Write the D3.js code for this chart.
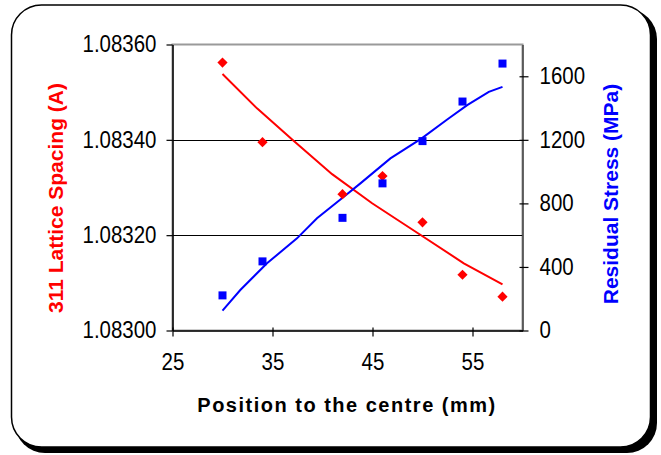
<!DOCTYPE html>
<html>
<head>
<meta charset="utf-8">
<script src="https://cdn.jsdelivr.net/npm/d3@7"></script>
<style>
  body { margin: 0; background: #fff; }
  svg { display: block; font-family: "Liberation Sans", Arial, sans-serif; }
</style>
</head>
<body>
<svg id="chart" width="661" height="455"></svg>
<script>
// Measured points: position (mm), 311 lattice spacing (A), residual stress (MPa)
var positions = [30, 34, 42, 46, 50, 54, 58];
var latticeSpacing = [1.083562, 1.083395, 1.083286, 1.083324, 1.083227, 1.083117, 1.083071];
var residualStress = [221, 435, 709, 926, 1192, 1441, 1680];

// Trend lines
var spacingTrendX = [30, 33.45, 37.05, 40.96, 44.96, 49.7, 54.13, 58];
var spacingTrendY = [1.083538, 1.083466, 1.083399, 1.083328, 1.083267, 1.083202, 1.083141, 1.083097];
var stressTrendX = [30, 31.78, 34.45, 37.45, 39.45, 41.79, 43.79, 46.79, 49.92, 52.47, 54.47, 56.63, 58];
var stressTrendY = [125, 255, 423, 580, 706, 825, 926, 1083, 1209, 1328, 1418, 1502, 1533];

// Axis ticks
var xTicks = [25, 35, 45, 55];
var leftTicks = [1.0830, 1.0832, 1.0834, 1.0836];
var rightTicks = [0, 400, 800, 1200, 1600];
var gridTicks = [1.0832, 1.0834];

var svg = d3.select("#chart");

var plot = { left: 172.5, right: 522.5, top: 44.5, bottom: 330.5 };

var x = d3.scaleLinear().domain([25, 60]).range([plot.left, plot.right]);
var yLeft = d3.scaleLinear().domain([1.0830, 1.0836]).range([plot.bottom, plot.top]);
var yRight = d3.scaleLinear().domain([0, 1800]).range([plot.bottom, plot.top]);

// Excel draws the labels a bit narrow: squeeze the glyphs horizontally
function squeeze(sel, k) {
  sel.each(function() {
    var w = this.getComputedTextLength();
    d3.select(this).attr("textLength", w * k).attr("lengthAdjust", "spacingAndGlyphs");
  });
}

// Frame with shadow
svg.append("rect")
  .attr("x", 15).attr("y", 9)
  .attr("width", 642).attr("height", 444)
  .attr("rx", 30).attr("ry", 30)
  .attr("fill", "#000");
svg.append("rect")
  .attr("x", 11.5).attr("y", 5)
  .attr("width", 639).attr("height", 442)
  .attr("rx", 30).attr("ry", 30)
  .attr("fill", "#fff")
  .attr("stroke", "#000")
  .attr("stroke-width", 1.5);

// Plot area border
svg.append("rect")
  .attr("x", plot.left).attr("y", plot.top)
  .attr("width", plot.right - plot.left)
  .attr("height", plot.bottom - plot.top)
  .attr("fill", "none")
  .attr("stroke", "#9a9a9a")
  .attr("stroke-width", 2);

// Gridlines
svg.append("g").selectAll("line")
  .data(gridTicks)
  .join("line")
  .attr("x1", plot.left).attr("x2", plot.right)
  .attr("y1", function(d) { return Math.round(yLeft(d)) + 0.5; })
  .attr("y2", function(d) { return Math.round(yLeft(d)) + 0.5; })
  .attr("stroke", "#000")
  .attr("stroke-width", 1);

// Axes
var leftAxis = svg.append("g")
  .attr("transform", "translate(" + plot.left + ",0)")
  .call(d3.axisLeft(yLeft).tickValues(leftTicks)
    .tickFormat(d3.format(".5f")).tickSize(6).tickSizeOuter(0).tickPadding(10));

var rightAxis = svg.append("g")
  .attr("transform", "translate(" + plot.right + ",0)")
  .call(d3.axisRight(yRight).tickValues(rightTicks)
    .tickFormat(d3.format("d")).tickSize(6).tickSizeOuter(0).tickPadding(11));
rightAxis.selectAll(".tick line").attr("x1", -3);

var bottomAxis = svg.append("g")
  .attr("transform", "translate(0," + plot.bottom + ")")
  .call(d3.axisBottom(x).tickValues(xTicks)
    .tickSize(6).tickSizeOuter(0).tickPadding(17));
bottomAxis.selectAll(".tick line").attr("y1", -3);

[leftAxis, rightAxis, bottomAxis].forEach(function(a) {
  a.attr("font-size", null).attr("font-family", null);
  a.select(".domain").attr("stroke", "#000").attr("stroke-width", 1.5);
  a.selectAll(".tick line").attr("stroke", "#000").attr("stroke-width", 1.2);
  a.selectAll("text")
    .attr("font-size", 23)
    .attr("fill", "#000")
    .call(squeeze, 0.89);
});
rightAxis.select(".domain").attr("stroke", "#444");

// Trend lines
var spacingLine = d3.line()
  .x(function(d, i) { return x(spacingTrendX[i]); })
  .y(function(d) { return yLeft(d); });
svg.append("path")
  .datum(spacingTrendY)
  .attr("d", spacingLine)
  .attr("fill", "none")
  .attr("stroke", "#ff0000")
  .attr("stroke-width", 2);

var stressLine = d3.line()
  .x(function(d, i) { return x(stressTrendX[i]); })
  .y(function(d) { return yRight(d); });
svg.append("path")
  .datum(stressTrendY)
  .attr("d", stressLine)
  .attr("fill", "none")
  .attr("stroke", "#0000ff")
  .attr("stroke-width", 2);

// Markers
var diamond = d3.symbol().type(d3.symbolSquare).size(52);
svg.append("g").selectAll("path")
  .data(latticeSpacing)
  .join("path")
  .attr("d", diamond)
  .attr("transform", function(d, i) {
    return "translate(" + x(positions[i]) + "," + yLeft(d) + ") rotate(45)";
  })
  .attr("fill", "#ff0000");

var square = d3.symbol().type(d3.symbolSquare).size(64);
svg.append("g").selectAll("path")
  .data(residualStress)
  .join("path")
  .attr("d", square)
  .attr("transform", function(d, i) {
    return "translate(" + x(positions[i]) + "," + yRight(d) + ")";
  })
  .attr("fill", "#0000ff");

// Axis titles
svg.append("text")
  .attr("transform", "translate(55,198) rotate(-90)")
  .attr("text-anchor", "middle")
  .attr("dominant-baseline", "central")
  .attr("font-size", 21)
  .attr("font-weight", "bold")
  .attr("fill", "#ff0000")
  .text("311 Lattice Spacing (A)");

svg.append("text")
  .attr("transform", "translate(610,194) rotate(-90)")
  .attr("text-anchor", "middle")
  .attr("dominant-baseline", "central")
  .attr("font-size", 21)
  .attr("font-weight", "bold")
  .attr("fill", "#0000ff")
  .text("Residual Stress (MPa)");

svg.append("text")
  .attr("x", 347)
  .attr("y", 412)
  .attr("text-anchor", "middle")
  .attr("font-size", 20)
  .attr("font-weight", "bold")
  .attr("letter-spacing", 1.5)
  .attr("fill", "#000")
  .text("Position to the centre (mm)");
</script>
</body>
</html>
